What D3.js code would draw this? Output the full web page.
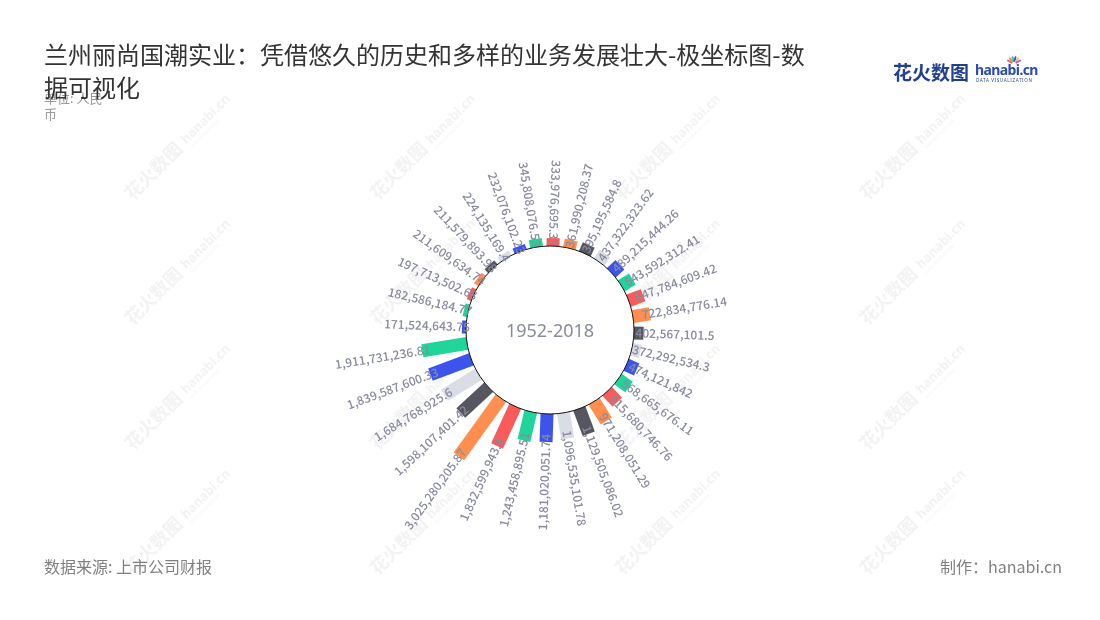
<!DOCTYPE html>
<html><head><meta charset="utf-8">
<script src="https://cdn.jsdelivr.net/npm/d3@7"></script>
<style>
html,body{margin:0;padding:0;background:#fff;}
svg{display:block;}
</style></head>
<body>
<div id="chart"></div>
<script>
// ---- data ----
const titleText = "兰州丽尚国潮实业：凭借悠久的历史和多样的业务发展壮大-极坐标图-数据可视化";
const unitText = ["单位: 人民", "币"];
const centerText = "1952-2018";
const sourceText = "数据来源: 上市公司财报";
const makerText = "制作：hanabi.cn";
const values = [
  171524643.75, 182586184.77, 197713502.68, 211609634.74, 211579893.98, 224135169.4,
  232076102.23, 345808076.53, 333976695.31, 361990208.37, 395195584.8, 437322323.62,
  489215444.26, 543592312.41, 647784609.42, 722834776.14, 402567101.5, 372292534.3,
  474121842, 568665676.11, 615680746.76, 971208051.29, 1129505086.02, 1096535101.78,
  1181020051.74, 1243458895.51, 1832599943.4, 3025280205.87, 1598107401.42, 1684768925.6,
  1839587600.33, 1911731236.81
];
const palette = ["#3b54ec", "#1fd59a", "#f95b5b", "#ff8e4f", "#55565f", "#dadde6"];

// ---- layout ----
const W = 1100, H = 620, cx = 550, cy = 330, innerR = 84;
const svg = d3.select("#chart").append("svg").attr("width", W).attr("height", H);
svg.append("rect").attr("width", W).attr("height", H).attr("fill", "#fff");

// watermarks
const wmX = [165, 410, 655, 900], wmY = [160, 285, 410, 535];
const wm = svg.append("g").attr("opacity", 0.5);
wmY.forEach(y => wmX.forEach(x => {
  const g = wm.append("g").attr("transform", `translate(${x},${y}) rotate(-45)`);
  g.append("text").attr("x", -52).attr("y", 6).attr("font-family", "Noto Sans CJK SC")
    .attr("font-weight", 700).attr("font-size", 18).attr("fill", "#e6e6e9").text("花火数图");
  g.append("text").attr("x", 26).attr("y", 4).attr("font-family", "Noto Sans")
    .attr("font-weight", 700).attr("font-size", 13).attr("fill", "#e6e6e9").text("hanabi.cn");
  g.append("text").attr("x", 27).attr("y", 11).attr("font-family", "Noto Sans")
    .attr("font-size", 4).attr("fill", "#e6e6e9").text("DATA VISUALIZATION");
}));

// header
svg.append("g").selectAll("text").data(unitText).join("text")
  .attr("x", 44).attr("y", (d, i) => 103 + i * 16)
  .attr("font-family", "Noto Sans CJK SC").attr("font-size", 13).attr("fill", "#9a9a9a")
  .text(d => d);
const titleLines = [titleText.slice(0, 33), titleText.slice(33)];
svg.append("g").selectAll("text").data(titleLines).join("text")
  .attr("x", 44).attr("y", (d, i) => 64 + i * 33)
  .attr("font-family", "Noto Sans CJK SC").attr("font-size", 24).attr("fill", "#333")
  .text(d => d);

// logo
const logo = svg.append("g");
logo.append("text").attr("x", 893).attr("y", 80).attr("font-family", "Noto Sans CJK SC")
  .attr("font-weight", 700).attr("font-size", 19).attr("fill", "#23408f").text("花火数图");
logo.append("text").attr("x", 975).attr("y", 75).attr("font-family", "Noto Sans")
  .attr("font-weight", 700).attr("font-size", 14).attr("fill", "#2b4bb0").attr("letter-spacing", -0.6).text("hanabi.cn");
logo.append("text").attr("x", 976).attr("y", 82).attr("font-family", "Noto Sans")
  .attr("font-size", 4.6).attr("fill", "#2b4bb0").attr("letter-spacing", 0.6).text("DATA VISUALIZATION");
["#f95b5b", "#ff8e4f", "#1fd59a", "#3b54ec", "#f4c542", "#b05be0"].forEach((c, i) => {
  const a = (-150 + i * 24) * Math.PI / 180;
  logo.append("line").attr("x1", 1014 + Math.cos(a) * 3).attr("y1", 64 + Math.sin(a) * 3)
    .attr("x2", 1014 + Math.cos(a) * 7).attr("y2", 64 + Math.sin(a) * 7)
    .attr("stroke", c).attr("stroke-width", 2).attr("stroke-linecap", "round");
});

// footer
svg.append("text").attr("x", 44).attr("y", 573).attr("font-family", "Noto Sans CJK SC")
  .attr("font-size", 16).attr("fill", "#808080").text(sourceText);
svg.append("text").attr("x", 1062).attr("y", 573).attr("text-anchor", "end").attr("font-family", "Noto Sans CJK SC")
  .attr("font-size", 16).attr("fill", "#808080").text(makerText);

// ---- polar bars ----
const startDeg = 266.4;
const angle = d3.scaleBand().domain(d3.range(values.length))
  .range([startDeg * Math.PI / 180, (startDeg + 360) * Math.PI / 180]).padding(0);
const radius = d3.scaleLinear().domain([0, 3500000000]).range([innerR, 167]);
const barW = 13;
const fmt = v => v.toLocaleString("en-US", {maximumFractionDigits: 2});

const plot = svg.append("g").attr("transform", `translate(${cx},${cy})`);
const items = values.map((v, i) => {
  const a = angle(i) + angle.bandwidth() / 2;
  const deg = (a * 180 / Math.PI) % 360;
  return {v, i, a, deg, rOut: radius(v), color: palette[i % palette.length], outward: deg > 6 && deg < 180};
});

plot.append("g").selectAll("rect").data(items).join("rect")
  .attr("transform", d => `rotate(${d.deg - 90})`)
  .attr("x", innerR - 2).attr("y", -barW / 2)
  .attr("width", d => d.rOut - innerR + 2).attr("height", barW)
  .attr("fill", d => d.color);

plot.append("circle").attr("r", innerR).attr("fill", "#fff").attr("stroke", "#111").attr("stroke-width", 1);

plot.append("text").attr("y", 7).attr("text-anchor", "middle").attr("font-family", "Noto Sans")
  .attr("font-size", 18).attr("fill", "#8a8c9e").text(centerText);

plot.append("g").selectAll("text").data(items).join("text")
  .attr("transform", d => d.outward ? `rotate(${d.deg - 90})` : `rotate(${d.deg + 90})`)
  .attr("x", d => {
    const r = Math.max(d.rOut - 8, innerR - 4);
    return d.outward ? r : -r;
  })
  .attr("y", 0).attr("dy", "0.35em")
  .attr("text-anchor", d => d.outward ? "start" : "end")
  .attr("font-family", "Noto Sans CJK SC").attr("font-weight", 500).attr("font-size", 12).attr("fill", "#888a9e")
  .text(d => fmt(d.v));
</script>
</body></html>
